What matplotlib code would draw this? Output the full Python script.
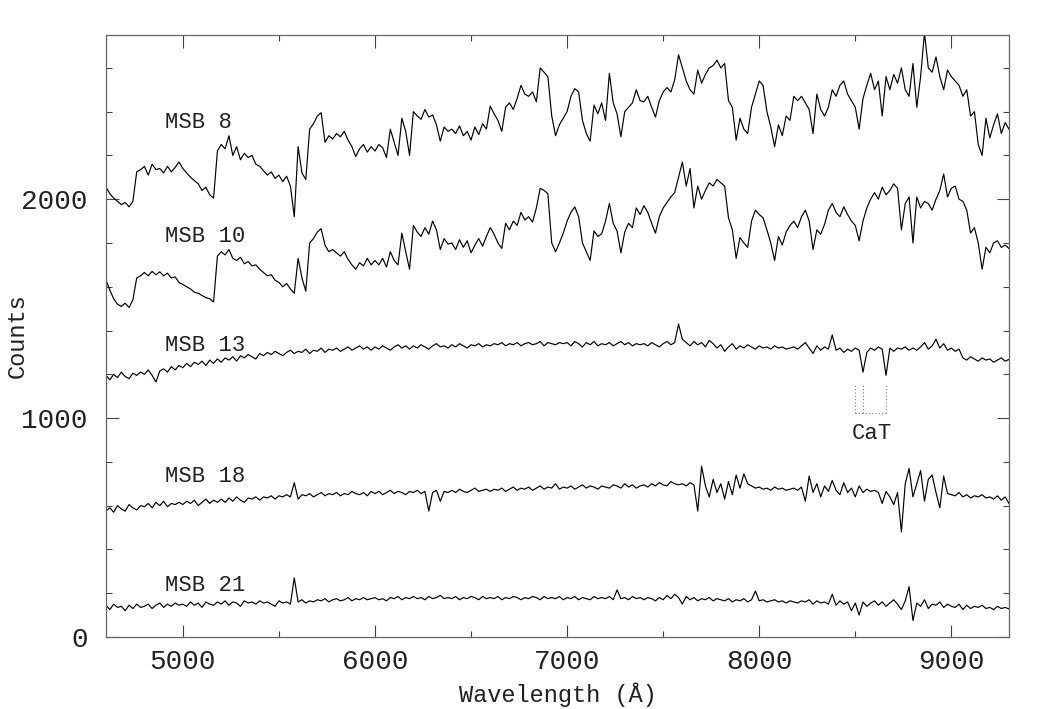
import numpy as np
import matplotlib
matplotlib.use("Agg")
import matplotlib.pyplot as plt

plt.rcParams["font.family"] = ["Liberation Mono", "DejaVu Sans"]

# wavelength grid (A), one sample every 20 A
wave = np.arange(4600, 9301, 20)

# counts, 10 samples per row (200 A per row)
msb8 = [
    2056, 2025, 2005, 1990, 1975, 1985, 1965, 1990, 2125, 2135,
    2150, 2110, 2160, 2135, 2140, 2120, 2150, 2125, 2145, 2170,
    2140, 2120, 2100, 2085, 2070, 2040, 2055, 2020, 2005, 2220,
    2250, 2230, 2290, 2200, 2240, 2180, 2210, 2190, 2200, 2160,
    2150, 2130, 2110, 2125, 2095, 2110, 2080, 2105, 2060, 1920,
    2240, 2120, 2090, 2320, 2345, 2380, 2395, 2260, 2290, 2275,
    2300, 2285, 2310, 2270, 2240, 2195, 2230, 2250, 2215, 2240,
    2220, 2250, 2235, 2190, 2320, 2260, 2200, 2370, 2310, 2200,
    2400, 2380, 2365, 2410, 2375, 2385, 2340, 2265, 2330, 2310,
    2320, 2300, 2335, 2290, 2310, 2270, 2330, 2295, 2345, 2320,
    2425, 2390, 2360, 2310, 2420, 2440, 2410, 2460, 2520, 2480,
    2470, 2490, 2445, 2600, 2580, 2560, 2380, 2290, 2340, 2370,
    2400, 2470, 2505, 2490, 2360, 2300, 2265, 2430, 2390, 2440,
    2360, 2575, 2440, 2390, 2285, 2400, 2420, 2440, 2500, 2450,
    2445, 2470, 2420, 2375, 2450, 2490, 2510, 2490, 2545, 2660,
    2600, 2540, 2500, 2480, 2590, 2530, 2570, 2600, 2610, 2635,
    2600, 2620, 2450, 2420, 2270, 2370, 2320, 2300, 2420, 2480,
    2540, 2520, 2400, 2330, 2240, 2340, 2290, 2380, 2360, 2470,
    2450, 2470, 2440, 2410, 2300, 2480, 2410, 2380, 2420, 2500,
    2470, 2520, 2540, 2480, 2450, 2420, 2320, 2460, 2520, 2575,
    2500, 2540, 2380, 2560, 2500, 2570, 2530, 2600, 2500, 2470,
    2620, 2420, 2560, 2760, 2600, 2580, 2650, 2560, 2500, 2590,
    2560, 2540, 2520, 2470, 2500, 2380, 2400, 2250, 2200, 2370,
    2280, 2340, 2390, 2300, 2350, 2320,
]

msb10 = [
    1630, 1585, 1545, 1520, 1510, 1525, 1505, 1540, 1640, 1650,
    1665, 1650, 1670, 1655, 1668, 1650, 1662, 1640, 1645, 1620,
    1610, 1600, 1590, 1575, 1570, 1560, 1550, 1545, 1530, 1740,
    1760, 1745, 1770, 1730, 1720, 1735, 1705, 1715, 1695, 1700,
    1680, 1665, 1650, 1655, 1630, 1620, 1600, 1615, 1590, 1570,
    1730, 1640, 1580, 1800, 1820, 1850, 1865, 1790, 1760, 1770,
    1755, 1740, 1760, 1725, 1700, 1680, 1710, 1695, 1730, 1700,
    1720, 1700, 1730, 1690, 1760, 1720, 1700, 1845, 1760, 1680,
    1880, 1850, 1830, 1870, 1840, 1900, 1860, 1770, 1820, 1795,
    1800, 1770, 1815, 1780, 1810, 1755, 1790, 1820, 1785, 1830,
    1870, 1840, 1800, 1775, 1890, 1860, 1900, 1880, 1940, 1905,
    1920, 1895, 1960, 2050, 2040, 2025, 1800, 1760, 1800, 1845,
    1900, 1940, 1965, 1920, 1800, 1760, 1720, 1855, 1830, 1842,
    1900, 1980, 1890, 1855, 1755, 1850, 1890, 1870, 1960, 1930,
    1970, 1940, 1890, 1845, 1920, 1960, 1985, 2010, 2030, 2100,
    2170, 2060, 2140, 1960, 2060, 2000, 2040, 2075, 2060, 2090,
    2075, 2060, 1915, 1860, 1730, 1825, 1800, 1780, 1900, 1950,
    1930, 1915, 1860, 1800, 1720, 1830, 1790, 1850, 1880, 1900,
    1870, 1920, 1950, 1900, 1770, 1860, 1840, 1885, 1950, 1980,
    1940, 1920, 1965, 1930, 1900, 1880, 1810, 1900, 1960, 2000,
    2030, 2000, 2055, 2020, 2040, 2070, 2050, 1860, 1980, 2010,
    1800, 2010, 1960, 1990, 1980, 1950, 2000, 2040, 2115, 2010,
    2050, 2060, 2000, 1990, 1950, 1845, 1870, 1800, 1680, 1780,
    1755, 1800, 1810, 1780, 1790, 1775,
]

msb13 = [
    1195, 1175, 1200, 1185, 1210, 1190, 1180, 1205, 1195, 1210,
    1200, 1220, 1195, 1165, 1215, 1225, 1210, 1235, 1220, 1240,
    1230, 1250, 1235, 1255, 1245, 1260, 1240, 1265, 1250, 1270,
    1255, 1275, 1265, 1280, 1260, 1285, 1275, 1290, 1280, 1270,
    1295, 1285, 1300, 1290, 1305, 1295, 1285, 1300, 1310, 1295,
    1305, 1300, 1315, 1295, 1310, 1305, 1320, 1300, 1315, 1310,
    1320, 1305, 1315, 1325, 1310, 1320, 1330, 1315, 1325, 1310,
    1325, 1315, 1330, 1320, 1310, 1325, 1335, 1320, 1330, 1315,
    1330, 1320, 1335, 1325, 1315, 1330, 1340, 1325, 1330, 1320,
    1335, 1325, 1340, 1330, 1320, 1335, 1330, 1340, 1325, 1335,
    1330, 1340, 1335, 1345, 1330, 1340, 1335, 1345, 1330, 1340,
    1345, 1335, 1340, 1350, 1330, 1345, 1340, 1335, 1345, 1340,
    1345, 1330, 1350, 1340, 1325, 1345, 1335, 1350, 1330, 1340,
    1335, 1345, 1330, 1340, 1350, 1335, 1345, 1330, 1340, 1335,
    1340, 1330, 1345, 1335, 1325, 1340, 1350, 1335, 1345, 1430,
    1360, 1345, 1330, 1350, 1335, 1345, 1325, 1355, 1340, 1320,
    1335, 1305, 1325, 1340, 1315, 1330, 1320, 1335, 1325, 1315,
    1330, 1320, 1325, 1315, 1330, 1320, 1325, 1315, 1320, 1325,
    1315, 1330, 1345, 1320, 1295, 1330, 1310, 1325, 1315, 1380,
    1310, 1320, 1300, 1315, 1305, 1320, 1310, 1210, 1300, 1320,
    1310, 1325, 1315, 1195, 1320, 1305, 1320, 1315, 1325, 1310,
    1320, 1310, 1325, 1345, 1315, 1330, 1360, 1320, 1340, 1310,
    1320, 1305, 1315, 1275, 1265, 1280, 1270, 1260, 1275, 1265,
    1270, 1255, 1265, 1275, 1260, 1268,
]

msb18 = [
    575, 590, 570, 600, 585, 575, 605, 590, 580, 600,
    595, 610, 590, 615, 600, 620, 595, 610, 605, 615,
    605, 620, 610, 625, 600, 615, 630, 610, 625, 615,
    630, 615, 635, 620, 640, 625, 615, 635, 630, 640,
    625, 640, 635, 645, 630, 645, 640, 650, 640, 705,
    630, 650, 645, 655, 640, 650, 660, 645, 655, 650,
    660, 645, 655, 650, 665, 655, 650, 660, 645, 665,
    655, 665, 650, 660, 670, 655, 665, 660, 650, 665,
    660, 670, 655, 665, 575, 660, 670, 620, 665, 660,
    670, 660, 675, 665, 660, 670, 680, 665, 670, 675,
    665, 675, 670, 680, 665, 675, 685, 670, 680, 675,
    685, 670, 680, 690, 675, 685, 680, 700, 675, 685,
    680, 690, 675, 685, 695, 680, 690, 685, 675, 690,
    685, 680, 695, 690, 680, 700, 685, 695, 680, 690,
    695, 685, 700, 690, 705, 695, 690, 710, 700, 695,
    700, 690, 705, 695, 575, 780, 690, 640, 720, 660,
    700, 630, 710, 650, 740, 680, 745, 700, 690, 680,
    685, 675, 680, 670, 685, 675, 680, 670, 675, 680,
    670, 685, 620, 735, 660, 700, 640, 690, 665, 715,
    670, 650, 705, 660, 680, 640, 690, 660, 675, 665,
    670, 660, 610, 665, 640, 605, 660, 480, 700, 770,
    640, 700, 760, 620, 720, 740, 660, 590, 735, 655,
    650, 645, 660, 640, 650, 635, 645, 640, 650, 635,
    640, 630, 645, 625, 640, 610,
]

msb21 = [
    145, 125, 150, 135, 140, 120, 145, 130, 150, 135,
    140, 150, 130, 145, 155, 135, 150, 140, 155, 145,
    150, 140, 160, 145, 155, 135, 160, 150, 145, 160,
    150, 165, 145, 160, 155, 140, 165, 155, 160, 150,
    165, 155, 160, 150, 140, 165, 155, 160, 150, 270,
    160, 170, 155, 165, 160, 170, 165, 175, 160, 170,
    175, 165, 170, 180, 165, 175, 170, 180, 170, 175,
    180, 170, 175, 165, 180, 175, 185, 170, 180, 175,
    185, 175, 180, 170, 185, 175, 180, 190, 175, 180,
    175, 185, 170, 180, 175, 185, 180, 170, 185, 175,
    180, 175, 185, 170, 180, 175, 185, 180, 170, 180,
    175, 185, 180, 170, 185, 175, 180, 175, 185, 170,
    180, 175, 185, 170, 180, 175, 170, 185, 175, 180,
    175, 185, 170, 215, 175, 180, 170, 185, 175, 180,
    170, 180, 175, 165, 180, 170, 190, 175, 195, 180,
    150, 185, 170, 180, 165, 175, 170, 180, 165, 175,
    170, 165, 175, 160, 170, 165, 175, 160, 170, 210,
    165, 170, 160, 165, 170, 160, 165, 155, 165, 160,
    155, 165, 160, 170, 150, 165, 155, 160, 150, 195,
    145, 165, 150, 160, 120, 155, 100, 160, 140, 155,
    165, 145, 160, 140, 155, 170, 150, 125, 165, 230,
    75, 155, 140, 170, 130, 150, 145, 160, 135, 150,
    140, 135, 150, 125, 145, 130, 140, 135, 145, 130,
    135, 125, 140, 130, 135, 128,
]

names = ["MSB 8", "MSB 10", "MSB 13", "MSB 18", "MSB 21"]
spectra = [msb8, msb10, msb13, msb18, msb21]
label_y = [2352, 1831, 1333, 735, 233]

# Ca triplet marker and its label
cat_lines = [8498, 8542, 8662]
cat_bottom, cat_top = 1024, 1160

fig = plt.figure(figsize=(10.63, 7.09), dpi=100)
ax = fig.add_axes([0.0997, 0.1016, 0.8495, 0.849])

for flux in spectra:
    ax.plot(wave, flux, color="black", lw=0.85)

for name, yy in zip(names, label_y):
    ax.text(4908, yy, name, fontsize=16, va="center", ha="left", color="#222222")

# CaT dotted bracket
for lam in cat_lines:
    ax.plot([lam, lam], [cat_bottom, cat_top], ls=(0, (1, 2)), color="#777777", lw=0.8)
ax.plot([cat_lines[0], cat_lines[-1]], [cat_bottom, cat_bottom], ls=(0, (1, 2)), color="#777777", lw=0.8)
ax.text(8586, 931, "CaT", fontsize=16, ha="center", va="center", color="#222222")

ax.set_xlim(4600, 9300)
ax.set_ylim(0, 2750)
ax.set_xticks([5000, 6000, 7000, 8000, 9000])
ax.set_xticks(np.arange(5000, 9301, 500), minor=True)
ax.set_yticks([0, 1000, 2000])
ax.set_yticks(np.arange(0, 2751, 200), minor=True)

ax.tick_params(which="both", direction="in", top=True, right=True, colors="#444444",
               labelcolor="#222222", labelsize=20, width=0.8)
ax.tick_params(which="major", length=9)
ax.tick_params(which="minor", length=4.5)
ax.tick_params(axis="x", pad=9)
ax.tick_params(axis="y", pad=13)

for sp in ax.spines.values():
    sp.set_color("#666666")
    sp.set_linewidth(0.9)

ax.set_xlabel("Wavelength (Å)", fontsize=17, color="#222222")
ax.set_ylabel("Counts", fontsize=17, color="#222222")
ax.xaxis.set_label_coords(0.5, -0.075)
ax.yaxis.set_label_coords(-0.086, 0.5)

fig.savefig("out.png", dpi=100)
